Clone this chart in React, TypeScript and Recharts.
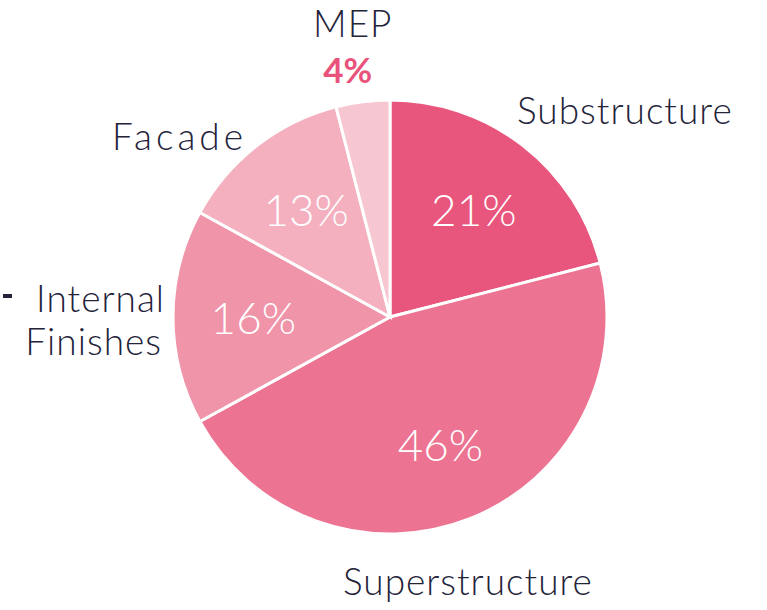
import { PieChart, Pie, Cell } from 'recharts'

const categories = ['Substructure', 'Superstructure', 'Internal Finishes', 'Facade', 'MEP']
const shares = [21, 46, 16, 13, 4]
const colors = ['#e9567d', '#ec7391', '#f094aa', '#f4b0bf', '#f6c6d1']

const data = categories.map((name, i) => ({ name, value: shares[i] }))

const RAD = Math.PI / 180
const FONT = 'Lato, "Open Sans", sans-serif'
const TEXT = '#23233a'

// where the category names sit, relative to the sector's outer edge
const nameOffsets: Record<string, { dx: number; dy: number; anchor: string }> = {
  Substructure: { dx: -6, dy: -22, anchor: 'start' },
  Superstructure: { dx: -2, dy: 76, anchor: 'middle' },
  'Internal Finishes': { dx: -8, dy: -5, anchor: 'end' },
  Facade: { dx: -10, dy: 4, anchor: 'end' },
  MEP: { dx: -10, dy: -65, anchor: 'middle' },
}

const renderLabel = (props: any) => {
  const { cx, cy, midAngle, outerRadius, index, name, value } = props
  const cos = Math.cos(-midAngle * RAD)
  const sin = Math.sin(-midAngle * RAD)
  const ix = cx + outerRadius * 0.63 * cos
  const iy = cy + outerRadius * 0.63 * sin
  const ex = cx + outerRadius * cos
  const ey = cy + outerRadius * sin
  const o = nameOffsets[name]
  const small = index === categories.length - 1

  return (
    <g>
      {name === 'Internal Finishes' ? (
        <g>
          <rect x={ex + o.dx - 162} y={ey + o.dy - 18} width={9} height={4} fill={TEXT} />
          <text textAnchor="end" fill={TEXT} fontSize={37} fontWeight={300} fontFamily={FONT} letterSpacing={1}>
            <tspan x={ex + o.dx} y={ey + o.dy}>Internal</tspan>
            <tspan x={ex + o.dx - 3} y={ey + o.dy + 43}>Finishes</tspan>
          </text>
        </g>
      ) : (
        <text x={ex + o.dx} y={ey + o.dy} textAnchor={o.anchor} fill={TEXT} fontSize={37}
          fontWeight={300} fontFamily={FONT} letterSpacing={name === 'Facade' ? 4 : 1}>
          {name}
        </text>
      )}
      {small ? (
        <text x={ex + o.dx - 5} y={ey + o.dy + 46} textAnchor="middle" fill="#e8527b"
          fontSize={35} fontWeight={700} fontFamily={FONT}>
          {`${value}%`}
        </text>
      ) : (
        <text x={ix} y={iy} textAnchor="middle" dominantBaseline="central" fill="#ffffff"
          fontSize={44} fontWeight={300} fontFamily={FONT}>
          {`${value}%`}
        </text>
      )}
    </g>
  )
}

export default function App() {
  return (
    <div style={{ position: 'absolute', left: 0, top: 0, background: '#fff' }}>
      <PieChart width={767} height={610} margin={{ top: 0, right: 0, bottom: 0, left: 0 }}>
        <Pie
          data={data}
          dataKey="value"
          nameKey="name"
          cx={390}
          cy={317}
          outerRadius={217}
          startAngle={90}
          endAngle={-270}
          stroke="#ffffff"
          strokeWidth={3}
          label={renderLabel}
          labelLine={false}
          isAnimationActive={false}
        >
          {data.map((d, i) => (
            <Cell key={d.name} fill={colors[i]} />
          ))}
        </Pie>
      </PieChart>
    </div>
  )
}
